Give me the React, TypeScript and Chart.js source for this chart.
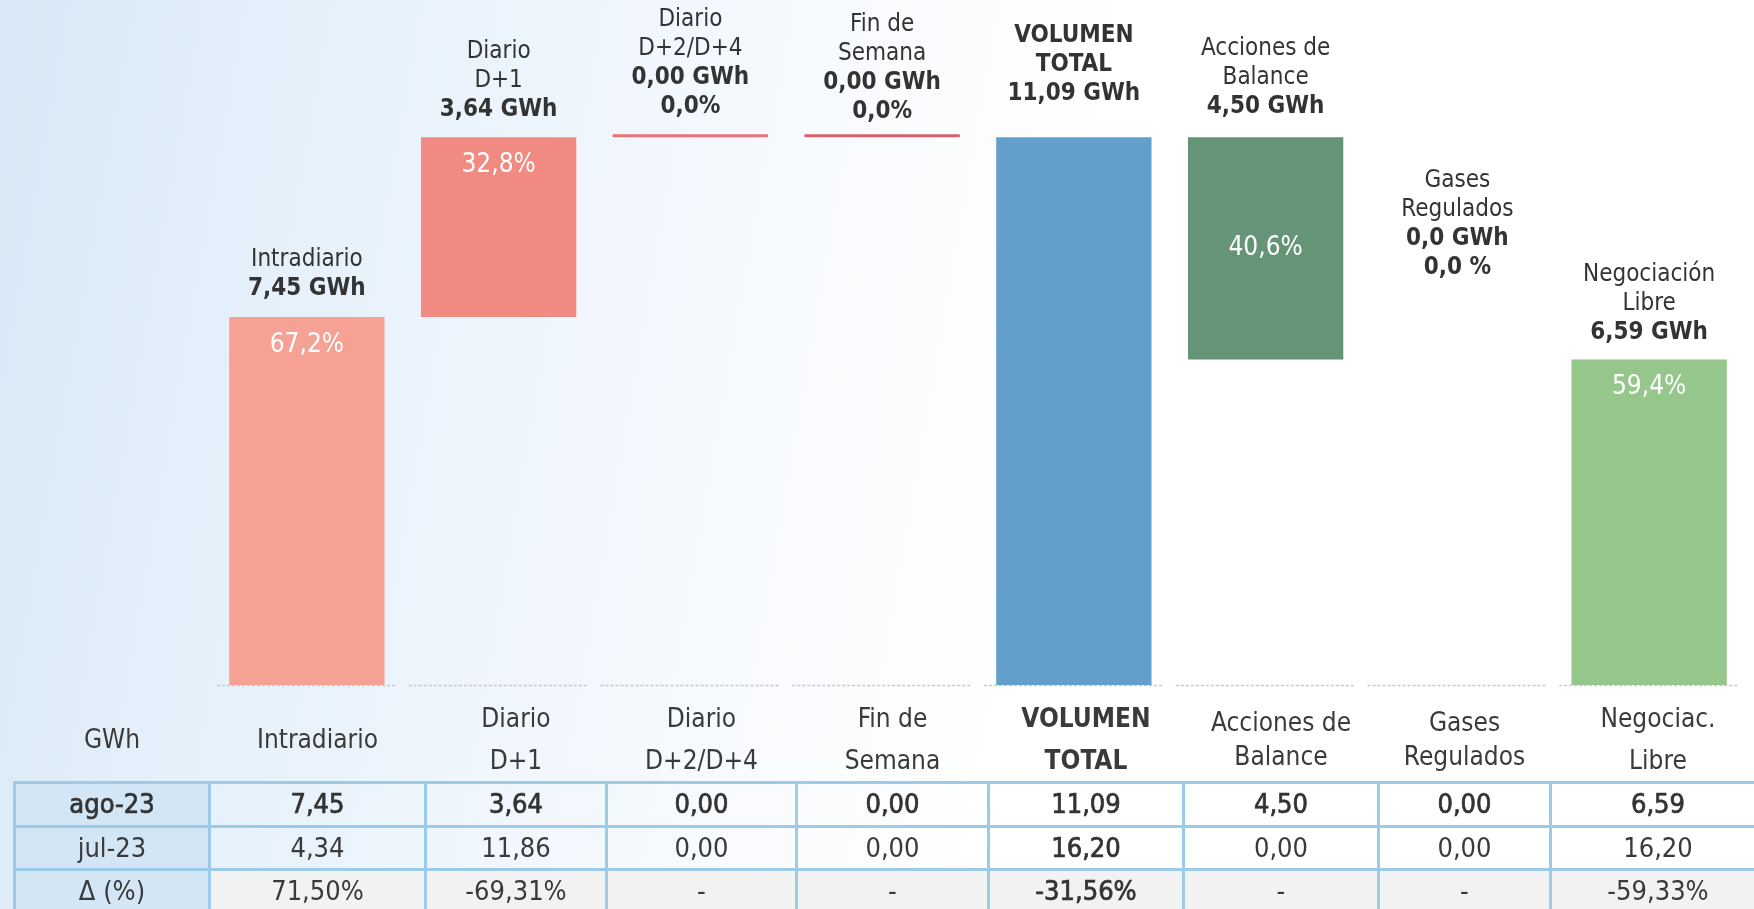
import React, { useEffect, useRef } from "react";
import { Chart, registerables } from "chart.js";

Chart.register(...registerables);

// ---------- data ----------
const categories = [
  "Intradiario",
  "Diario D+1",
  "Diario D+2/D+4",
  "Fin de Semana",
  "VOLUMEN TOTAL",
  "Acciones de Balance",
  "Gases Regulados",
  "Negociación Libre",
];
const volumesGWh = [7.45, 3.64, 0.0, 0.0, 11.09, 4.5, 0.0, 6.59];
const stepKinds = ["add", "add", "add", "add", "total", "sub", "sub", "total"];
const titleLines = [
  ["Intradiario"],
  ["Diario", "D+1"],
  ["Diario", "D+2/D+4"],
  ["Fin de", "Semana"],
  ["VOLUMEN", "TOTAL"],
  ["Acciones de", "Balance"],
  ["Gases", "Regulados"],
  ["Negociación", "Libre"],
];
const valueLabels = ["7,45 GWh", "3,64 GWh", "0,00 GWh", "0,00 GWh", "11,09 GWh", "4,50 GWh", "0,0 GWh", "6,59 GWh"];
const shareLabels = ["67,2%", "32,8%", "0,0%", "0,0%", "", "40,6%", "0,0 %", "59,4%"];

const tableHeaders = [
  ["GWh"],
  ["Intradiario"],
  ["Diario", "D+1"],
  ["Diario", "D+2/D+4"],
  ["Fin de", "Semana"],
  ["VOLUMEN", "TOTAL"],
  ["Acciones de", "Balance"],
  ["Gases", "Regulados"],
  ["Negociac.", "Libre"],
];
const rowAgo23 = ["ago-23", "7,45", "3,64", "0,00", "0,00", "11,09", "4,50", "0,00", "6,59"];
const rowJul23 = ["jul-23", "4,34", "11,86", "0,00", "0,00", "16,20", "0,00", "0,00", "16,20"];
const rowDelta = ["Δ (%)", "71,50%", "-69,31%", "-", "-", "-31,56%", "-", "-", "-59,33%"];

// ---------- styles ----------
const barColors = ["#f5a194", "#f18a80", "#e8727a", "#d9606b", "#62a0cb", "#659477", "#cccccc", "#95c68b"];
const FONT = '"DejaVu Sans Condensed", "DejaVu Sans", sans-serif';
const TEXT = "#333333";
const labelLift = [0, 0, 3, -2, 16, 3, 64, -1];
const insideMode = ["top", "top", "", "", "", "middle", "", "top"];
const colWidths = [195, 216, 181, 190, 192, 195, 195, 172, 215];
const headerLineHeights = [42, 42, 42, 42, 42, 42, 34, 34, 42];
const BORDER = "3px solid #9ccbea";

function buildRanges(): [number, number][] {
  let running = 0;
  return volumesGWh.map((v, i) => {
    const k = stepKinds[i];
    if (k === "total") {
      running = v;
      return [0, v] as [number, number];
    }
    if (k === "add") {
      const r: [number, number] = [running, running + v];
      running += v;
      return r;
    }
    const r: [number, number] = [running - v, running];
    running -= v;
    return r;
  });
}

const baselinePlugin = {
  id: "dashBaseline",
  beforeDatasetsDraw(chart: any) {
    const { ctx, scales } = chart;
    const x = scales.x;
    const y = scales.y;
    const step = x.getPixelForValue(1) - x.getPixelForValue(0);
    const y0 = Math.round(y.getPixelForValue(0)) + 0.5;
    ctx.save();
    ctx.strokeStyle = "#c9c9c9";
    ctx.lineWidth = 1.5;
    ctx.setLineDash([3, 2]);
    categories.forEach((_, i) => {
      const cx = x.getPixelForValue(i);
      ctx.beginPath();
      ctx.moveTo(cx - step / 2 + 6, y0);
      ctx.lineTo(cx + step / 2 - 6, y0);
      ctx.stroke();
    });
    ctx.restore();
  },
};

const labelsPlugin = {
  id: "waterfallLabels",
  afterDatasetsDraw(chart: any) {
    const { ctx, scales } = chart;
    const x = scales.x;
    const y = scales.y;
    const ranges = buildRanges();
    ctx.save();
    ctx.textAlign = "center";
    ctx.textBaseline = "middle";
    categories.forEach((_, i) => {
      const cx = x.getPixelForValue(i);
      const top = y.getPixelForValue(Math.max(ranges[i][0], ranges[i][1]));
      const bottom = y.getPixelForValue(Math.min(ranges[i][0], ranges[i][1]));
      const lines: { t: string; bold: boolean }[] = [];
      titleLines[i].forEach((t) => lines.push({ t, bold: i === 4 }));
      lines.push({ t: valueLabels[i], bold: true });
      const inside = insideMode[i];
      if (!inside && shareLabels[i]) lines.push({ t: shareLabels[i], bold: true });
      let yy = top - 28 - labelLift[i];
      for (let k = lines.length - 1; k >= 0; k--) {
        const l = lines[k];
        ctx.font = (l.bold ? "bold 24px " : "24px ") + FONT;
        ctx.fillStyle = TEXT;
        ctx.fillText(l.t, cx, yy);
        yy -= 29;
      }
      if (inside && shareLabels[i]) {
        ctx.font = "26px " + FONT;
        ctx.fillStyle = "#ffffff";
        const py = inside === "middle" ? (top + bottom) / 2 : top + 28;
        ctx.fillText(shareLabels[i], cx, py);
      }
    });
    ctx.restore();
  },
};

function WaterfallChart() {
  const ref = useRef<HTMLCanvasElement | null>(null);
  useEffect(() => {
    if (!ref.current) return;
    const ranges = buildRanges();
    const mainData = ranges.map((r, i) => (volumesGWh[i] === 0 ? null : r));
    const zeroData = ranges.map((r, i) => (volumesGWh[i] === 0 && stepKinds[i] === "add" ? r : null));
    const chart = new Chart(ref.current, {
      type: "bar",
      data: {
        labels: categories,
        datasets: [
          {
            data: mainData as any,
            backgroundColor: barColors,
            borderWidth: 0,
            barPercentage: 0.81,
            categoryPercentage: 1,
          },
          {
            data: zeroData as any,
            backgroundColor: barColors,
            borderWidth: 0,
            barPercentage: 0.81,
            categoryPercentage: 1,
            minBarLength: 3,
          },
        ],
      },
      options: {
        responsive: false,
        animation: false,
        datasets: { bar: { grouped: false } } as any,
        layout: { padding: { top: 43, bottom: 15, left: 211, right: 9 } },
        plugins: { legend: { display: false }, tooltip: { enabled: false } },
        scales: {
          x: { display: false },
          y: { display: false, min: 0, max: 13 },
        },
      },
      plugins: [baselinePlugin, labelsPlugin],
    });
    return () => chart.destroy();
  }, []);
  return <canvas ref={ref} width={1754} height={700} style={{ position: "absolute", left: 0, top: 0 }} />;
}

function DataTable() {
  const cellBase: React.CSSProperties = {
    textAlign: "center",
    verticalAlign: "middle",
    padding: 0,
    color: "#3a3a3a",
    whiteSpace: "nowrap",
  };
  const bodyRow = (row: string[], strong: boolean, bg: string) => (
    <tr style={{ height: 43.5 }}>
      {row.map((c, i) => {
        const emph = strong || i === 5;
        return (
          <td
            key={i}
            style={{
              ...cellBase,
              border: BORDER,
              fontSize: 27,
              lineHeight: "36px",
              fontWeight: "normal",
              WebkitTextStroke: emph ? "0.7px #333" : "0px",
              color: emph ? "#333" : "#3a3a3a",
              background: i === 0 ? "#d3e6f6" : bg,
            }}
          >
            {c}
          </td>
        );
      })}
    </tr>
  );
  return (
    <table
      style={{
        position: "absolute",
        left: 13,
        top: 697,
        borderCollapse: "collapse",
        tableLayout: "fixed",
        width: colWidths.reduce((a, b) => a + b, 0),
        fontFamily: FONT,
      }}
    >
      <colgroup>
        {colWidths.map((w, i) => (
          <col key={i} style={{ width: w }} />
        ))}
      </colgroup>
      <tbody>
        <tr style={{ height: 84 }}>
          {tableHeaders.map((h, i) => (
            <td
              key={i}
              style={{
                ...cellBase,
                fontSize: 26,
                lineHeight: headerLineHeights[i] + "px",
                fontWeight: i === 5 ? "bold" : "normal",
                border: "none",
              }}
            >
              {h.map((l, k) => (
                <div key={k}>{l}</div>
              ))}
            </td>
          ))}
        </tr>
        {bodyRow(rowAgo23, true, "transparent")}
        {bodyRow(rowJul23, false, "transparent")}
        {bodyRow(rowDelta, false, "#f2f2f2")}
      </tbody>
    </table>
  );
}

export default function App() {
  return (
    <div
      style={{
        position: "absolute",
        left: 0,
        top: 0,
        width: 1754,
        height: 909,
        overflow: "hidden",
        background:
          "linear-gradient(100deg, #d8e8f6 0%, #e6f1fb 18%, #f1f7fd 35%, #fbfcfe 50%, #ffffff 60%)",
      }}
    >
      <WaterfallChart />
      <DataTable />
    </div>
  );
}
